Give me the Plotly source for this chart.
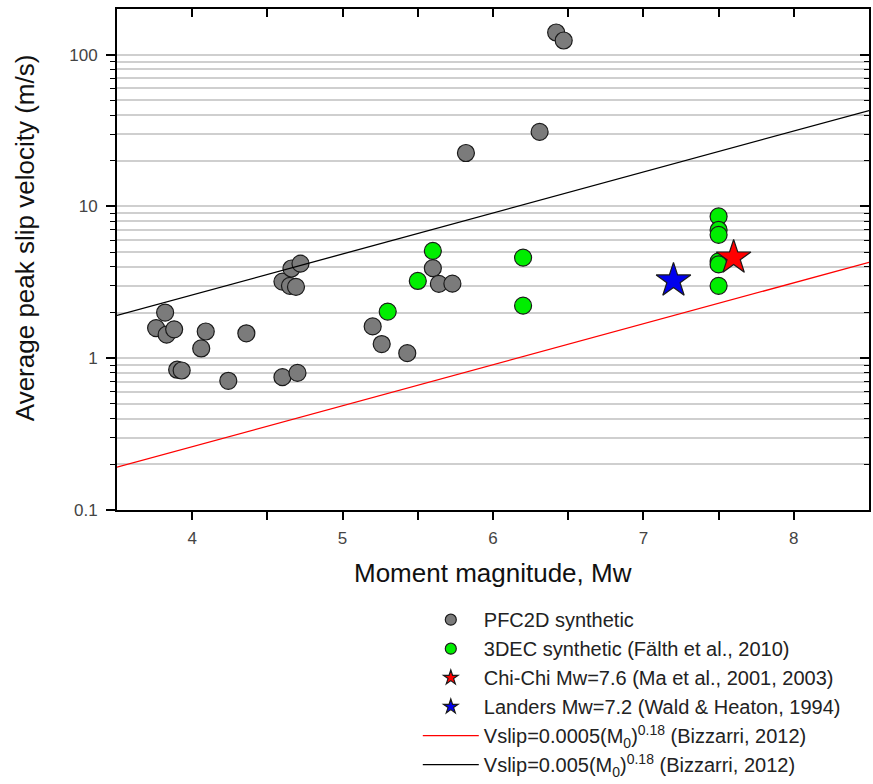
import numpy as np
import plotly.graph_objects as go

# PFC2D synthetic events
pfc_mw = [3.76, 3.82, 3.83, 3.88, 3.90, 3.93, 4.06, 4.09, 4.24, 4.36, 4.60, 4.70,
          4.60, 4.65, 4.69, 4.66, 4.72, 5.20, 5.26, 5.43, 5.60, 5.64, 5.73, 5.82,
          6.31, 6.42, 6.47]
pfc_v = [1.58, 2.00, 1.43, 1.55, 0.84, 0.83, 1.16, 1.50, 0.71, 1.46, 0.75, 0.80,
         3.20, 3.00, 2.95, 3.90, 4.20, 1.62, 1.24, 1.08, 3.92, 3.09, 3.10, 22.5,
         31.0, 140.0, 124.0]

# 3DEC synthetic events (Fälth et al., 2010)
dec_mw = [5.30, 5.50, 5.60, 6.20, 6.20, 7.50, 7.50, 7.50, 7.50, 7.50, 7.50]
dec_v = [2.03, 3.23, 5.10, 4.60, 2.22, 8.60, 7.00, 6.50, 4.35, 4.15, 3.00]

# Observed earthquakes
chichi_mw, chichi_v = [7.6], [4.6]
landers_mw, landers_v = [7.2], [3.25]

# Bizzarri (2012) scaling: Vslip = c * M0^0.18, M0 = 10^(1.5 Mw + 9.1)
line_mw = np.array([3.5, 8.5])
coef_low, coef_high, expo = 0.0005, 0.005, 0.18
m0 = 10 ** (1.5 * line_mw + 9.1)
v_low = coef_low * m0 ** expo
v_high = coef_high * m0 ** expo

x_ticks = [4, 4.5, 5, 5.5, 6, 6.5, 7, 7.5, 8]
x_ticktext = ["4", " ", "5", " ", "6", " ", "7", " ", "8"]
y_major = [0.1, 1, 10, 100]
y_minor = [m * 10 ** e for e in (-1, 0, 1) for m in range(2, 10)]

FONT = "Liberation Sans, Arial, sans-serif"
OUTLINE = dict(color="#1a1a1a", width=1.2)

# (name, x, y, marker style, colour, plot size, legend size)
point_series = [
    ("PFC2D synthetic", pfc_mw, pfc_v, "circle", "#7b7b7b", 17, 11),
    ("3DEC synthetic (Fälth et al., 2010)", dec_mw, dec_v, "circle", "#00ee00", 17, 11),
    ("Chi-Chi Mw=7.6 (Ma et al., 2001, 2003)", chichi_mw, chichi_v, "star", "#ff0000", 26, 11),
    ("Landers Mw=7.2 (Wald & Heaton, 1994)", landers_mw, landers_v, "star", "#0000ee", 26, 11),
]
line_series = [
    ("Vslip=0.0005(M<sub>0</sub>)<sup>0.18</sup> (Bizzarri, 2012)", v_low, "#ff0000"),
    ("Vslip=0.005(M<sub>0</sub>)<sup>0.18</sup> (Bizzarri, 2012)", v_high, "#000000"),
]

fig = go.Figure()

for name, xs, ys, sym, col, size, _ in point_series:
    fig.add_trace(go.Scatter(
        x=xs, y=ys, mode="markers", name=name, showlegend=False,
        marker=dict(symbol=sym, size=size, color=col, line=OUTLINE)))
for name, ys, col in line_series:
    fig.add_trace(go.Scatter(
        x=line_mw, y=ys, mode="lines", name=name, showlegend=False,
        line=dict(color=col, width=1.3)))

# legend keys with smaller symbols than the plotted markers
for i, (name, _, _, sym, col, _, lsize) in enumerate(point_series):
    fig.add_trace(go.Scatter(
        x=[None], y=[None], mode="markers", name=name, legendgroup=f"g{i}",
        marker=dict(symbol=sym, size=lsize, color=col, line=OUTLINE)))
for j, (name, _, col) in enumerate(line_series):
    fig.add_trace(go.Scatter(
        x=[None], y=[None], mode="lines", name=name, legendgroup=f"l{j}",
        line=dict(color=col, width=1.3)))

# hidden trace carrying the mirrored top/right axes
fig.add_trace(go.Scatter(x=[6], y=[1], xaxis="x2", yaxis="y2", mode="markers",
                         marker=dict(opacity=0), showlegend=False, hoverinfo="skip"))

fig.update_layout(
    width=873, height=784,
    margin=dict(l=117, r=4, t=9, b=274, autoexpand=False),
    paper_bgcolor="white", plot_bgcolor="white",
    font=dict(family=FONT, color="#333333", size=17),
    xaxis=dict(range=[3.5, 8.5], tickmode="array", tickvals=x_ticks,
               ticktext=x_ticktext, ticks="outside", ticklen=8, tickwidth=1.5,
               tickcolor="#000", showline=True, linecolor="#000", linewidth=2,
               showgrid=False, zeroline=False, ticklabelstandoff=4,
               tickfont=dict(size=17, color="#444")),
    yaxis=dict(type="log", range=[-1, np.log10(200)], tickmode="array",
               tickvals=y_major, ticktext=["0.1", "1", "10", "100"],
               ticks="outside", ticklen=9, tickwidth=1.5, tickcolor="#000",
               showline=True, linecolor="#000", linewidth=2,
               showgrid=True, gridcolor="#cfcfcf", gridwidth=2,
               ticklabelstandoff=5,
               minor=dict(tickmode="array", tickvals=y_minor, ticks="outside",
                          ticklen=5, tickwidth=1.2, tickcolor="#000",
                          showgrid=True, gridcolor="#cfcfcf", gridwidth=2),
               tickfont=dict(size=17, color="#444")),
    xaxis2=dict(range=[3.5, 8.5], overlaying="x", side="top", anchor="y",
                tickmode="array", tickvals=x_ticks, ticks="inside", ticklen=8,
                tickwidth=1.5, tickcolor="#000", showticklabels=False,
                showline=True, linecolor="#000", linewidth=2, showgrid=False,
                zeroline=False),
    yaxis2=dict(type="log", range=[-1, np.log10(200)], overlaying="y",
                side="right", anchor="x", tickmode="array", tickvals=y_major,
                ticks="inside", ticklen=9, tickwidth=1.5, tickcolor="#000",
                showticklabels=False, showline=True, linecolor="#000",
                linewidth=2, showgrid=False,
                minor=dict(tickmode="array", tickvals=y_minor, ticks="inside",
                           ticklen=5, tickwidth=1.2, tickcolor="#000",
                           showgrid=False)),
    legend=dict(x=0.400, y=-0.18, xanchor="left", yanchor="top",
                font=dict(family=FONT, size=20, color="#222"),
                tracegroupgap=0, bgcolor="rgba(0,0,0,0)", itemwidth=56),
    showlegend=True,
    annotations=[
        dict(text="Moment magnitude, Mw", xref="paper", yref="paper",
             x=0.5, y=-0.126, xanchor="center", yanchor="middle",
             showarrow=False, font=dict(family=FONT, size=26, color="#111")),
        dict(text="Average peak slip velocity (m/s)", xref="paper", yref="paper",
             x=-0.122, y=0.543, xanchor="center", yanchor="middle", textangle=-90,
             showarrow=False, font=dict(family=FONT, size=26, color="#111")),
    ],
)

fig.write_html("out.html")
